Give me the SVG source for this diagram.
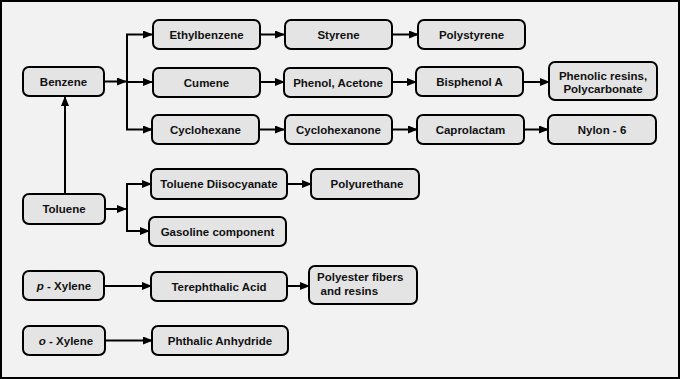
<svg xmlns="http://www.w3.org/2000/svg" width="680" height="379" viewBox="0 0 680 379">
<defs>
<marker id="ah" markerWidth="10" markerHeight="8" refX="9" refY="4" orient="auto" markerUnits="userSpaceOnUse">
<path d="M0,0 L10,4 L0,8 Z" fill="#000"/>
</marker>
<style>
.b{fill:#e4e4e4;stroke:#000;stroke-width:2}
.t{font-family:"Liberation Sans",Arial,sans-serif;font-weight:bold;font-size:11.5px;fill:#111;text-anchor:middle;dominant-baseline:central}
.c{fill:none;stroke:#000;stroke-width:2}
</style>
</defs>
<rect x="1" y="1" width="678" height="377" fill="#f2f2f2" stroke="#000" stroke-width="2"/>
<g id="connectors">
<path class="c" d="M104,81.5 H126" marker-end="url(#ah)"/>
<path class="c" d="M127,34.5 V129.5"/>
<path class="c" d="M126,34.5 H152" marker-end="url(#ah)"/>
<path class="c" d="M126,82 H152" marker-end="url(#ah)"/>
<path class="c" d="M126,129.5 H152" marker-end="url(#ah)"/>
<path class="c" d="M260,34.5 H284" marker-end="url(#ah)"/>
<path class="c" d="M260,82 H284" marker-end="url(#ah)"/>
<path class="c" d="M259,129.5 H284" marker-end="url(#ah)"/>
<path class="c" d="M392,34.5 H418" marker-end="url(#ah)"/>
<path class="c" d="M392,82 H416" marker-end="url(#ah)"/>
<path class="c" d="M392,129.5 H417" marker-end="url(#ah)"/>
<path class="c" d="M523,82 H549" marker-end="url(#ah)"/>
<path class="c" d="M524,129.5 H548" marker-end="url(#ah)"/>
<path class="c" d="M65,194 V97" marker-end="url(#ah)"/>
<path class="c" d="M105,209 H126" marker-end="url(#ah)"/>
<path class="c" d="M127,184 V231"/>
<path class="c" d="M126,184 H151" marker-end="url(#ah)"/>
<path class="c" d="M126,231 H149" marker-end="url(#ah)"/>
<path class="c" d="M287,184 H311" marker-end="url(#ah)"/>
<path class="c" d="M104,286 H151" marker-end="url(#ah)"/>
<path class="c" d="M287,286 H309" marker-end="url(#ah)"/>
<path class="c" d="M105,340.5 H152" marker-end="url(#ah)"/>
</g>
<g id="benzene"><rect class="b" x="23" y="67" width="81" height="29" rx="6"/><text class="t" x="63.5" y="81.5">Benzene</text></g>
<g id="ethylbenzene"><rect class="b" x="153" y="20" width="107" height="29" rx="6"/><text class="t" x="206.5" y="34.5">Ethylbenzene</text></g>
<g id="cumene"><rect class="b" x="153" y="68" width="107" height="29" rx="6"/><text class="t" x="206.5" y="82.5">Cumene</text></g>
<g id="cyclohexane"><rect class="b" x="152" y="115" width="107" height="29" rx="6"/><text class="t" x="205.5" y="129.5">Cyclohexane</text></g>
<g id="styrene"><rect class="b" x="285" y="20" width="107" height="29" rx="6"/><text class="t" x="338.5" y="34.5">Styrene</text></g>
<g id="phenol-acetone"><rect class="b" x="284" y="68" width="108" height="29" rx="6"/><text class="t" x="338" y="82.5">Phenol, Acetone</text></g>
<g id="cyclohexanone"><rect class="b" x="285" y="115" width="107" height="29" rx="6"/><text class="t" x="338.5" y="129.5">Cyclohexanone</text></g>
<g id="polystyrene"><rect class="b" x="418" y="20" width="107" height="29" rx="6"/><text class="t" x="471.5" y="34.5">Polystyrene</text></g>
<g id="bisphenol-a"><rect class="b" x="416" y="67" width="107" height="29" rx="6"/><text class="t" x="469.5" y="81.5">Bisphenol A</text></g>
<g id="caprolactam"><rect class="b" x="417" y="115" width="107" height="29" rx="6"/><text class="t" x="470.5" y="129.5">Caprolactam</text></g>
<g id="phenolic-resins"><rect class="b" x="549" y="62" width="108" height="38" rx="6"/><text class="t" x="603" y="75.5">Phenolic resins,</text><text class="t" x="603" y="89">Polycarbonate</text></g>
<g id="nylon-6"><rect class="b" x="548" y="115" width="108" height="29" rx="6"/><text class="t" x="602" y="129.5">Nylon - 6</text></g>
<g id="toluene"><rect class="b" x="23" y="194" width="82" height="30" rx="6"/><text class="t" x="64" y="209">Toluene</text></g>
<g id="toluene-diisocyanate"><rect class="b" x="151" y="169" width="136" height="30" rx="6"/><text class="t" x="219" y="184">Toluene Diisocyanate</text></g>
<g id="gasoline-component"><rect class="b" x="149" y="217" width="137" height="29" rx="6"/><text class="t" x="217.5" y="231.5">Gasoline component</text></g>
<g id="polyurethane"><rect class="b" x="311" y="169" width="108" height="30" rx="6"/><text class="t" x="367" y="184">Polyurethane</text></g>
<g id="p-xylene"><rect class="b" x="23" y="271" width="81" height="29" rx="6"/><text class="t" x="64" y="285.5"><tspan font-style="italic">p</tspan> - Xylene</text></g>
<g id="terephthalic-acid"><rect class="b" x="151" y="272" width="136" height="29" rx="6"/><text class="t" x="219" y="286.5">Terephthalic Acid</text></g>
<g id="polyester"><rect class="b" x="309" y="266" width="108" height="38" rx="6"/><text class="t" style="text-anchor:start" x="317" y="277">Polyester fibers</text><text class="t" style="text-anchor:start" x="320.5" y="291">and resins</text></g>
<g id="o-xylene"><rect class="b" x="23" y="326" width="82" height="29" rx="6"/><text class="t" x="66" y="340.5"><tspan font-style="italic">o</tspan> - Xylene</text></g>
<g id="phthalic-anhydride"><rect class="b" x="152" y="326" width="136" height="29" rx="6"/><text class="t" x="220" y="340.5">Phthalic Anhydride</text></g>
</svg>
